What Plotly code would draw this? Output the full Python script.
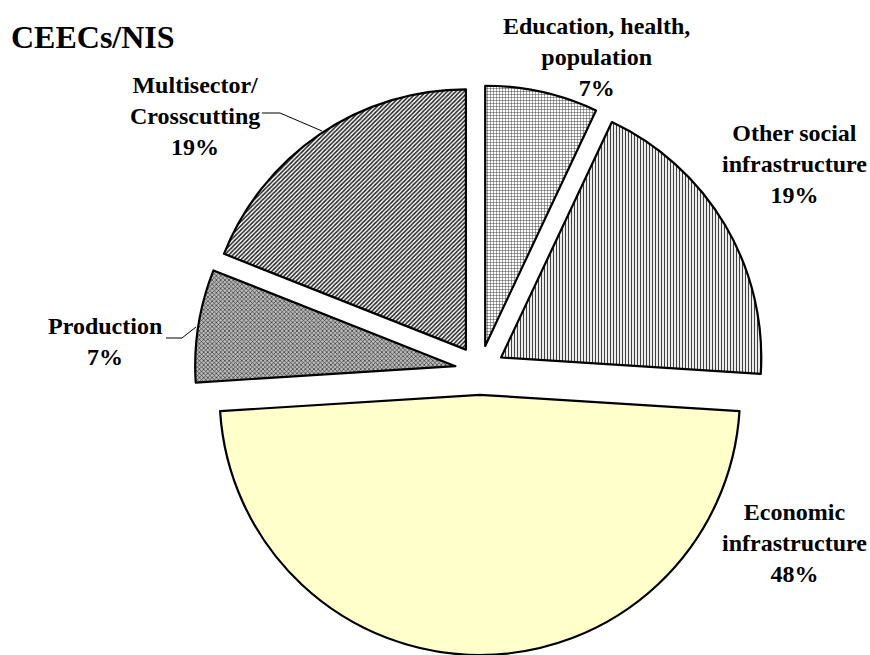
import plotly.graph_objects as go

# ---- data ----
categories = ["Education, health, population", "Other social infrastructure",
              "Economic infrastructure", "Production", "Multisector/ Crosscutting"]
shares = [7, 19, 48, 7, 19]
label_texts = ["Education, health,<br>population<br>7%",
               "Other social<br>infrastructure<br>19%",
               "Economic<br>infrastructure<br>48%",
               "Production<br>7%",
               "Multisector/<br>Crosscutting<br>19%"]
title_text = "CEECs/NIS"

W, H = 870, 655

def px(x):
    return x / W

def py(y):
    return 1 - y / H

fig = go.Figure(go.Pie(
    labels=categories,
    values=shares,
    sort=False,
    direction="clockwise",
    rotation=0,
    pull=0.095,
    textinfo="none",
    hoverinfo="label+percent",
    domain=dict(x=[0.21, 0.893], y=[0.0, 0.87]),
    marker=dict(
        colors=["white", "white", "#FFFFCC", "#b0b0b0", "#e0e0e0"],
        line=dict(color="black", width=2.2),
        pattern=dict(
            shape=["+", "|", "", "x", "/"],
            fgcolor=["#404040", "#404040", "black", "#303030", "#202020"],
            bgcolor=["white", "white", "#FFFFCC", "#bcbcbc", "white"],
            size=[3, 3, 4, 3, 3],
            solidity=[0.3, 0.4, 0.3, 0.4, 0.5],
        ),
    ),
))

FAM = "Liberation Serif"
font = dict(family=FAM, size=24, color="black", weight="bold")

label_pos = [(596, 57), (794, 164), (794, 543), (105, 341), (195, 116)]
ann = []
for t, (x, y) in zip(label_texts, label_pos):
    ann.append(dict(x=px(x), y=py(y), xref="paper", yref="paper", text=t,
                    showarrow=False, xanchor="center", yanchor="middle",
                    align="center", font=font))
ann.append(dict(x=px(9), y=py(37), xref="paper", yref="paper", text=title_text,
                showarrow=False, xanchor="left", yanchor="middle",
                font=dict(family=FAM, size=32, color="black", weight="bold")))

def leader(pts):
    d = "M " + " L ".join(f"{px(x)},{py(y)}" for x, y in pts)
    return dict(type="path", path=d, xref="paper", yref="paper",
                line=dict(color="black", width=1))

shapes = [leader([(262, 113), (280, 113), (322, 131)]),
          leader([(166, 338), (182, 338), (196, 327)])]

fig.update_layout(
    width=W, height=H,
    margin=dict(l=0, r=0, t=0, b=0),
    paper_bgcolor="white", plot_bgcolor="white",
    showlegend=False,
    annotations=ann,
    shapes=shapes,
)

fig.write_html("out.html", config={"displayModeBar": False},
               post_script="document.body.style.margin='0';")
